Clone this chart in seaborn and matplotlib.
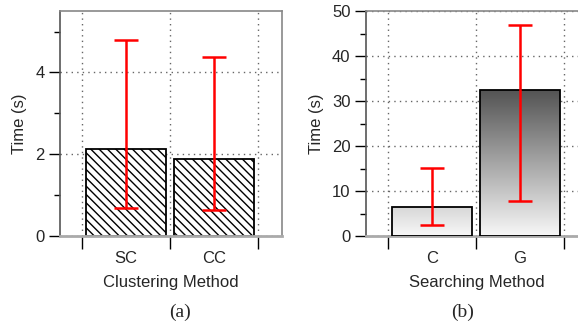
import numpy as np
import pandas as pd
import matplotlib
matplotlib.use('Agg')
import matplotlib.pyplot as plt
import seaborn as sns
from matplotlib.ticker import MultipleLocator, FixedLocator

# data
cluster_methods = ['SC', 'CC']
cluster_time = [2.14, 1.88]
cluster_low = [0.69, 0.63]
cluster_high = [4.79, 4.37]

search_methods = ['C', 'G']
search_time = [6.5, 32.4]
search_low = [2.4, 7.8]
search_high = [15.2, 47.0]

sns.set_style('white')
plt.rcParams['font.family'] = ['Liberation Sans', 'DejaVu Sans']
plt.rcParams['hatch.linewidth'] = 1.0

fig = plt.figure(figsize=(5.78, 3.26), dpi=100)
ax1 = fig.add_axes([0.1038, 0.276, 0.384, 0.690])
ax2 = fig.add_axes([0.633, 0.276, 0.384, 0.690])


def style_axes(ax, ymax, major, minor, xlabel):
    ax.set_xlim(-0.75, 1.77)
    ax.set_ylim(0, ymax)
    ax.yaxis.set_major_locator(MultipleLocator(major))
    ax.yaxis.set_minor_locator(MultipleLocator(minor))
    ax.xaxis.set_minor_locator(FixedLocator([-0.5, 0.5, 1.5]))
    ax.grid(False)
    ax.grid(True, axis='y', which='major', linestyle=(0, (1, 3)), color='#666666', lw=1, zorder=0)
    ax.grid(True, axis='x', which='minor', linestyle=(0, (1, 3)), color='#666666', lw=1, zorder=0)
    ax.tick_params(axis='y', which='major', length=8, width=1, color='black',
                   direction='out', labelsize=12, pad=3, left=True)
    ax.tick_params(axis='y', which='minor', length=4, width=1, color='black',
                   direction='out', left=True)
    ax.tick_params(axis='x', which='major', length=0, labelsize=12, pad=11)
    ax.tick_params(axis='x', which='minor', length=9, width=1, color='black',
                   direction='out', bottom=True)
    for s in ['top', 'right']:
        ax.spines[s].set_color('#888888')
        ax.spines[s].set_linewidth(1.2)
    ax.spines['left'].set_color('#555555')
    ax.spines['left'].set_linewidth(1.2)
    ax.spines['bottom'].set_color('#aaaaaa')
    ax.spines['bottom'].set_linewidth(2)
    ax.set_xlabel(xlabel, fontsize=12, labelpad=6)
    ax.set_ylabel('Time (s)', fontsize=12, labelpad=6)


def add_errors(ax, vals, low, high):
    vals = np.array(vals)
    yerr = [vals - np.array(low), np.array(high) - vals]
    ax.errorbar(range(len(vals)), vals, yerr=yerr, fmt='none', ecolor='red',
                elinewidth=1.8, capsize=8.6, capthick=1.8, zorder=4)


# (a) clustering
df1 = pd.DataFrame({'method': cluster_methods, 'time': cluster_time})
sns.barplot(data=df1, x='method', y='time', ax=ax1, width=0.9, color='white',
            edgecolor='black', linewidth=1.3, zorder=2)
for p in ax1.patches:
    p.set_hatch('\\\\\\\\')
    p.set_facecolor('white')
add_errors(ax1, cluster_time, cluster_low, cluster_high)
style_axes(ax1, 5.5, 2, 1, 'Clustering Method')

# (b) searching, gradient filled bars
df2 = pd.DataFrame({'method': search_methods, 'time': search_time})
sns.barplot(data=df2, x='method', y='time', ax=ax2, width=0.9, color='white',
            edgecolor='black', linewidth=1.3, zorder=3)
grad = np.linspace(0, 1, 256).reshape(-1, 1)
for p in list(ax2.patches):
    x, w, h = p.get_x(), p.get_width(), p.get_height()
    p.set_facecolor('none')
    top_gray = 0.97 - 0.0198 * h
    g = 0.97 + (top_gray - 0.97) * grad
    img = np.dstack([g, g, g])
    im = ax2.imshow(img, extent=[x, x + w, 0, h], origin='lower', aspect='auto',
                    zorder=2, interpolation='bilinear')
    im.set_clip_path(p)
add_errors(ax2, search_time, search_low, search_high)
style_axes(ax2, 50, 10, 5, 'Searching Method')

fig.text(0.311, 0.042, '(a)', fontsize=14, family='Liberation Serif', ha='center', va='center')
fig.text(0.801, 0.042, '(b)', fontsize=14, family='Liberation Serif', ha='center', va='center')

fig.savefig('out.png', dpi=100)
